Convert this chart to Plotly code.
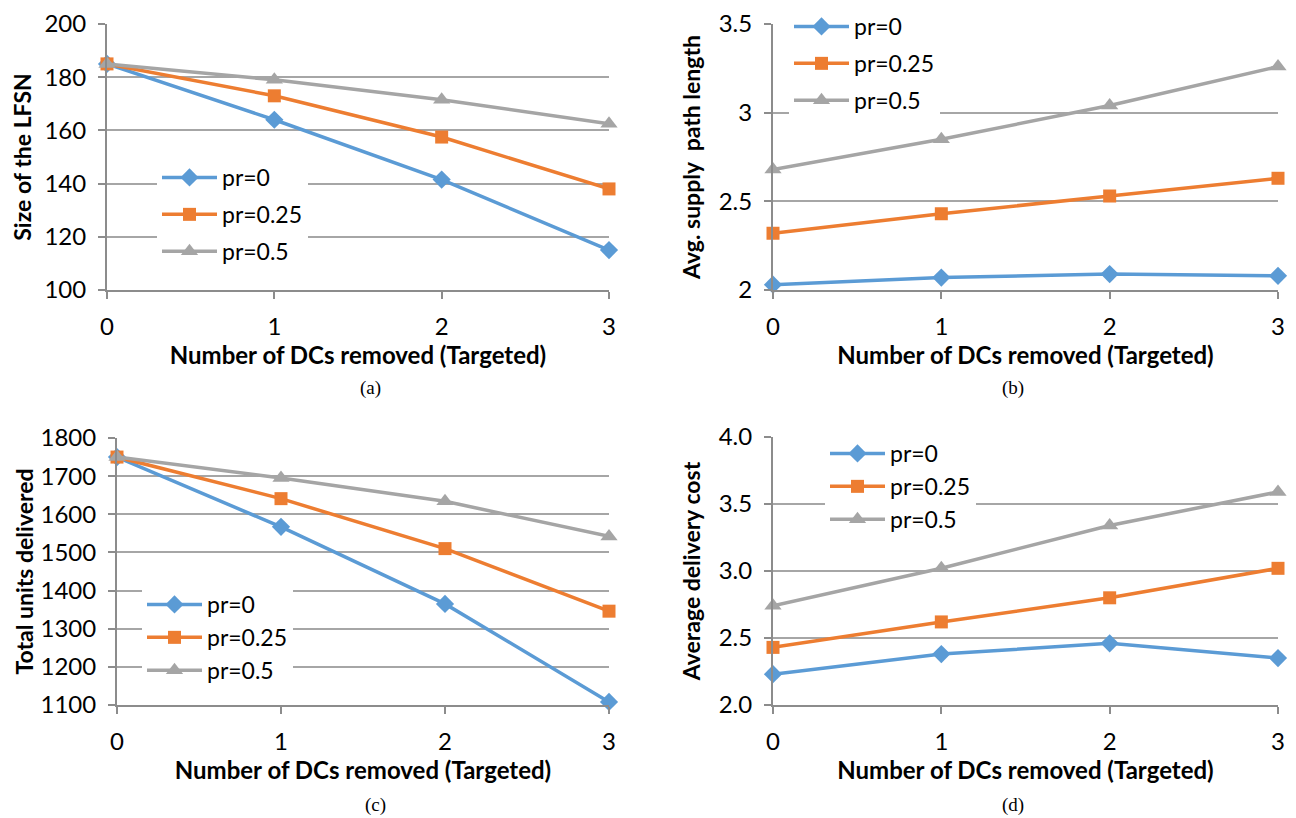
import plotly.graph_objects as go

x_vals = [0, 1, 2, 3]
series_names = ["pr=0", "pr=0.25", "pr=0.5"]

# (a) Size of the LFSN
lfsn_pr0 = [185, 164, 141.5, 115]
lfsn_pr025 = [185, 173, 157.5, 138]
lfsn_pr05 = [185, 179, 171.5, 162.5]

# (b) Avg. supply path length
path_pr0 = [2.03, 2.07, 2.09, 2.08]
path_pr025 = [2.32, 2.43, 2.53, 2.63]
path_pr05 = [2.68, 2.85, 3.04, 3.26]

# (c) Total units delivered
units_pr0 = [1750, 1567, 1365, 1108]
units_pr025 = [1750, 1641, 1510, 1346]
units_pr05 = [1750, 1695, 1634, 1542]

# (d) Average delivery cost
cost_pr0 = [2.23, 2.38, 2.46, 2.35]
cost_pr025 = [2.43, 2.62, 2.80, 3.02]
cost_pr05 = [2.74, 3.02, 3.34, 3.59]

x_title = "Number of DCs removed (Targeted)"
captions = ["(a)", "(b)", "(c)", "(d)"]
y_titles = ["Size of the LFSN", "Avg. supply  path length", "Total units delivered", "Average delivery cost"]

colors = ["#5B9BD5", "#ED7D31", "#A5A5A5"]
symbols = ["diamond", "square", "triangle-up"]
msizes = [14, 13, 15]

W, H = 1296, 818
OFF = 8  # page body margin offset in the browser
FONT = "Lato, 'Open Sans', sans-serif"


def px(x):
    return (x - OFF) / W


def py(y):
    return 1 - (y - OFF) / H


# plot areas in screen pixels: (x0, x1, ytop, ybottom)
areas = [
    (107, 609, 24, 290),
    (773, 1278, 24, 290),
    (117, 609, 438, 705),
    (773, 1278, 437, 705),
]
yranges = [[100, 200], [2, 3.5], [1100, 1800], [2.0, 4.0]]
ydtick = [20, 0.5, 100, 0.5]
ytickformat = ["", "", "", ".1f"]
ytitle_standoff = [6, 12, 0, 12]
legend_pos = [(157, 156), (789, 5), (142, 583), (825, 432)]
legend_gap = [4, 4, 0, 0]
caption_y = [388, 388, 805, 805]
data_sets = [
    [lfsn_pr0, lfsn_pr025, lfsn_pr05],
    [path_pr0, path_pr025, path_pr05],
    [units_pr0, units_pr025, units_pr05],
    [cost_pr0, cost_pr025, cost_pr05],
]

fig = go.Figure()
layout = dict(
    width=W, height=H,
    margin=dict(l=0, r=0, t=0, b=0, autoexpand=False),
    paper_bgcolor="white", plot_bgcolor="white",
    font=dict(family=FONT, size=24, color="black"),
    annotations=[],
)

for i in range(4):
    ax = "" if i == 0 else str(i + 1)
    leg = "legend" if i == 0 else "legend" + str(i + 1)
    x0, x1, yt, yb = areas[i]
    for s in range(3):
        fig.add_trace(go.Scatter(
            x=x_vals, y=data_sets[i][s], name=series_names[s],
            mode="lines+markers",
            line=dict(color=colors[s], width=3.5),
            marker=dict(symbol=symbols[s], size=msizes[s], color=colors[s]),
            xaxis="x" + ax, yaxis="y" + ax, legend=leg,
            legendgroup="g%d_%d" % (i, s),
            cliponaxis=False,
        ))
    layout["xaxis" + ax] = dict(
        domain=[px(x0), px(x1)], anchor="y" + ax, automargin=False,
        range=[0, 3], tickvals=x_vals, showgrid=False,
        showline=True, linecolor="#8c8c8c", linewidth=2,
        ticks="outside", ticklen=7, tickcolor="#8c8c8c", tickwidth=1.5,
        ticklabelstandoff=7, zeroline=False, ticklabeloverflow="allow",
        tickfont=dict(size=24),
        title=dict(text="<b>" + x_title + "</b>", font=dict(size=24), standoff=4),
    )
    layout["yaxis" + ax] = dict(
        domain=[py(yb), py(yt)], anchor="x" + ax, automargin=False,
        range=yranges[i], dtick=ydtick[i], tickformat=ytickformat[i],
        showgrid=True, gridcolor="#a6a6a6", gridwidth=1.5,
        showline=True, linecolor="#8c8c8c", linewidth=2,
        ticks="outside", ticklen=7, tickcolor="#8c8c8c", tickwidth=1.5,
        ticklabelstandoff=7, zeroline=False, ticklabeloverflow="allow",
        tickfont=dict(size=24),
        title=dict(text="<b>" + y_titles[i] + "</b>", font=dict(size=23),
                   standoff=ytitle_standoff[i]),
    )
    lx, ly = legend_pos[i]
    layout[leg] = dict(
        x=px(lx), y=py(ly), xanchor="left", yanchor="top",
        bgcolor="white", font=dict(size=23), itemwidth=55,
        tracegroupgap=legend_gap[i],
    )
    layout["annotations"].append(dict(
        text=captions[i], x=px((x0 + x1) / 2), y=py(caption_y[i]),
        xref="paper", yref="paper", showarrow=False, yanchor="middle",
        font=dict(family="'Liberation Serif', 'Times New Roman', serif", size=19),
    ))

fig.update_layout(**layout)
fig.write_html("out.html")
